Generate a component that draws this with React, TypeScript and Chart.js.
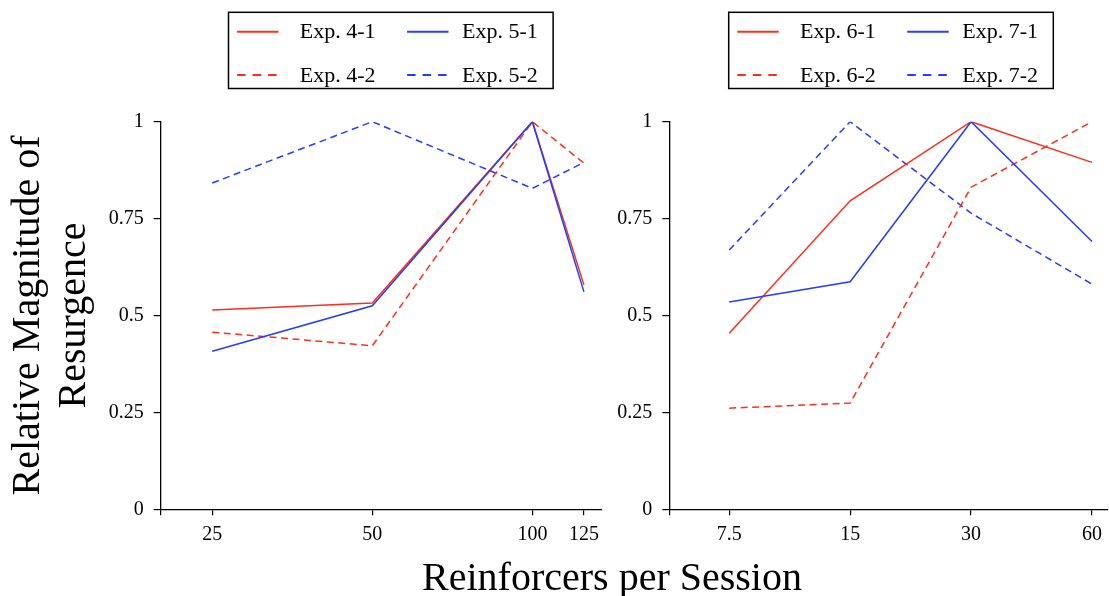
import React, { useEffect, useRef } from 'react';
import { Chart, registerables } from 'chart.js';

Chart.register(...registerables);

// ---- Data ----
const leftX = [25, 50, 100, 125];
const exp41 = [0.514, 0.532, 1.0, 0.579];
const exp51 = [0.408, 0.525, 1.0, 0.561];
const exp42 = [0.457, 0.422, 1.0, 0.893];
const exp52 = [0.842, 1.0, 0.828, 0.895];

const rightX = [7.5, 15, 30, 60];
const exp61 = [0.454, 0.796, 1.0, 0.895];
const exp71 = [0.535, 0.587, 1.0, 0.691];
const exp62 = [0.261, 0.274, 0.831, 1.0];
const exp72 = [0.669, 1.0, 0.764, 0.581];

const yTicks = [0, 0.25, 0.5, 0.75, 1];
const yTickLabels = ['0', '0.25', '0.5', '0.75', '1'];

const leftRange = [20, 135];
const rightRange = [5.32, 65.6];

const yTitle = ['Relative Magnitude of', 'Resurgence'];
const xTitle = 'Reinforcers per Session';

// ---- Styles ----
const RED = 'rgb(255,45,25)';
const BLUE = 'rgb(35,60,255)';
const DASH = [7, 4.5];
const FONT = 'Liberation Serif';

function series(label: string, xs: number[], ys: number[], color: string, dashed: boolean, order: number) {
  return {
    label,
    data: xs.map((x, i) => ({ x, y: ys[i] })),
    borderColor: color,
    backgroundColor: color,
    borderWidth: 1.5,
    borderDash: dashed ? DASH : [],
    pointRadius: 0,
    pointHoverRadius: 0,
    tension: 0,
    fill: false,
    order,
  };
}

const boxLegend = {
  id: 'boxLegend',
  afterDraw(chart: any, _args: any, opts: any) {
    if (!opts || !opts.box) return;
    const { ctx } = chart;
    const { box, colSample, colText, rowY, sampleLen } = opts;
    ctx.save();
    ctx.strokeStyle = '#000';
    ctx.lineWidth = 1.5;
    ctx.setLineDash([]);
    ctx.strokeRect(box.x, box.y, box.w, box.h);
    ctx.font = `22px "${FONT}"`;
    ctx.textBaseline = 'middle';
    ctx.textAlign = 'left';
    chart.data.datasets.forEach((ds: any, i: number) => {
      const col = i % 2;
      const row = Math.floor(i / 2);
      const y = box.y + rowY[row];
      const sx = box.x + colSample[col];
      ctx.strokeStyle = ds.borderColor;
      ctx.lineWidth = 2;
      ctx.setLineDash(ds.borderDash && ds.borderDash.length ? [8.5, 7] : []);
      ctx.beginPath();
      ctx.moveTo(sx, y);
      ctx.lineTo(sx + sampleLen, y);
      ctx.stroke();
      ctx.setLineDash([]);
      ctx.fillStyle = '#000';
      ctx.fillText(ds.label, box.x + colText[col], y + 1);
    });
    ctx.restore();
  },
};

function makeConfig(opts: {
  xs: number[];
  sets: any[];
  range: number[];
  yWidth: number;
  padRight: number;
  showYTitle: boolean;
  legendX: number;
}) {
  const tickFont = { family: FONT, size: 20 };
  const xTickVals = [opts.range[0], ...opts.xs];
  return {
    type: 'line' as const,
    data: { datasets: opts.sets },
    plugins: [boxLegend],
    options: {
      responsive: false,
      animation: false as const,
      events: [],
      layout: { padding: { top: 121.7, left: 0, right: opts.padRight, bottom: 42.7 } },
      plugins: {
        legend: { display: false },
        tooltip: { enabled: false },
        boxLegend: {
          box: { x: opts.legendX, y: 12.3, w: 324.6, h: 76.2 },
          colSample: [8.6, 178.6],
          colText: [71.3, 233.6],
          rowY: [19.4, 62.7],
          sampleLen: 41.4,
        },
      },
      scales: {
        x: {
          type: 'logarithmic' as const,
          min: opts.range[0],
          max: opts.range[1],
          afterBuildTicks: (scale: any) => {
            scale.ticks = xTickVals.map((v) => ({ value: v }));
          },
          afterFit: (scale: any) => {
            scale.height = 44;
          },
          ticks: {
            autoSkip: false,
            maxRotation: 0,
            padding: 7,
            color: '#000',
            font: tickFont,
            callback: (v: any) => (v === opts.range[0] ? '' : String(v)),
          },
          grid: { drawOnChartArea: false, drawTicks: true, tickLength: 6, color: '#000', lineWidth: 1.2 },
          border: { display: true, color: '#000', width: 1.3 },
        },
        y: {
          type: 'linear' as const,
          min: 0,
          max: 1,
          afterBuildTicks: (scale: any) => {
            scale.ticks = yTicks.map((v) => ({ value: v }));
          },
          afterFit: (scale: any) => {
            scale.width = opts.yWidth;
          },
          ticks: {
            padding: 10,
            color: '#000',
            font: tickFont,
            callback: (v: any) => {
              const i = yTicks.indexOf(Number(v));
              return i >= 0 ? yTickLabels[i] : '';
            },
          },
          grid: { drawOnChartArea: false, drawTicks: true, tickLength: 7, color: '#000', lineWidth: 1.2 },
          border: { display: true, color: '#000', width: 1.3 },
          title: {
            display: opts.showYTitle,
            text: yTitle,
            color: '#000',
            font: { family: FONT, size: 40, lineHeight: 1.15 },
            padding: { top: 5.5, bottom: 0 },
          },
        },
      },
    },
  };
}

export default function App() {
  const leftRef = useRef<HTMLCanvasElement>(null);
  const rightRef = useRef<HTMLCanvasElement>(null);

  useEffect(() => {
    const left = new Chart(
      leftRef.current as HTMLCanvasElement,
      makeConfig({
        xs: leftX,
        range: leftRange,
        yWidth: 160.7,
        padRight: 8.3,
        showYTitle: true,
        legendX: 228.5,
        sets: [
          series('Exp. 4-1', leftX, exp41, RED, false, 1),
          series('Exp. 5-1', leftX, exp51, BLUE, false, 0),
          series('Exp. 4-2', leftX, exp42, RED, true, 2),
          series('Exp. 5-2', leftX, exp52, BLUE, true, 3),
        ],
      }) as any
    );
    const right = new Chart(
      rightRef.current as HTMLCanvasElement,
      makeConfig({
        xs: rightX,
        range: rightRange,
        yWidth: 69.3,
        padRight: 0,
        showYTitle: false,
        legendX: 128.7,
        sets: [
          series('Exp. 6-1', rightX, exp61, RED, false, 1),
          series('Exp. 7-1', rightX, exp71, BLUE, false, 0),
          series('Exp. 6-2', rightX, exp62, RED, true, 2),
          series('Exp. 7-2', rightX, exp72, BLUE, true, 3),
        ],
      }) as any
    );
    return () => {
      left.destroy();
      right.destroy();
    };
  }, []);

  return (
    <div style={{ position: 'fixed', left: 0, top: 0, width: 1109, height: 596, background: '#fff', overflow: 'hidden' }}>
      <canvas ref={leftRef} width={610} height={596} style={{ position: 'absolute', left: 0, top: 0 }} />
      <canvas ref={rightRef} width={509} height={596} style={{ position: 'absolute', left: 600, top: 0 }} />
      <div
        style={{
          position: 'absolute',
          left: 0,
          width: 1224,
          top: 556.5,
          textAlign: 'center',
          fontFamily: `"${FONT}"`,
          fontSize: 40,
          lineHeight: '40px',
          color: '#000',
          whiteSpace: 'nowrap',
        }}
      >
        {xTitle}
      </div>
    </div>
  );
}
